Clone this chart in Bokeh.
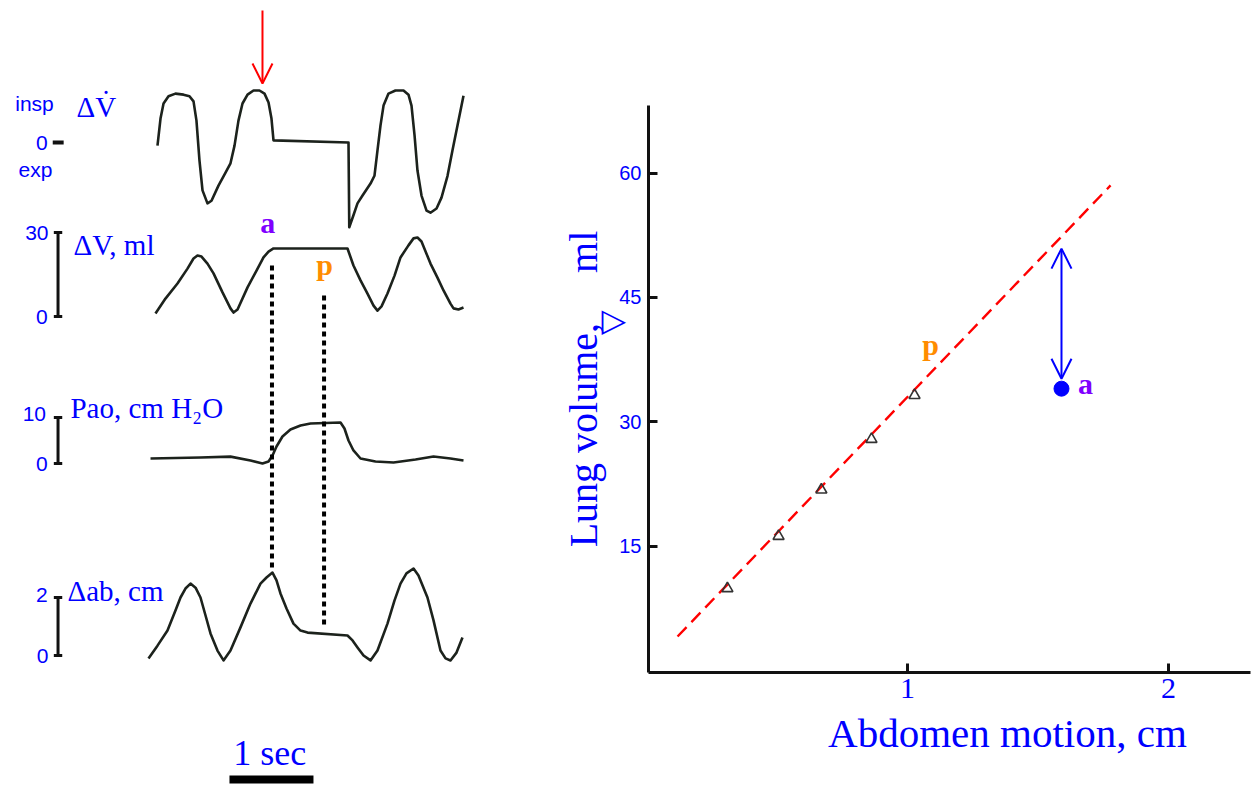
import numpy as np
from bokeh.plotting import figure
from bokeh.layouts import row
from bokeh.models import Range1d, Arrow, OpenHead, Label, FixedTicker
from bokeh.embed import file_html
from bokeh.resources import INLINE
from bokeh.core.properties import value

# ---------------- data: left panel, recorded traces (time in s) ----------------
flow_t = [0.107, 0.143, 0.179, 0.238, 0.321, 0.417, 0.488, 0.536, 0.571, 0.607, 0.643, 0.702,
          0.75, 0.833, 0.917, 0.976, 1.024, 1.071, 1.119, 1.179, 1.25, 1.321, 1.381, 1.429,
          1.464, 1.488, 2.381, 2.39, 2.44, 2.488, 2.548, 2.643, 2.69, 2.726, 2.762, 2.798,
          2.857, 2.94, 3.036, 3.095, 3.131, 3.167, 3.202, 3.25, 3.31, 3.357, 3.429, 3.488,
          3.56, 3.619, 3.679, 3.75]
flow_v = [-0.06, 0.46, 0.75, 0.89, 0.94, 0.92, 0.89, 0.79, 0.42, -0.35, -0.92, -1.17,
          -1.12, -0.83, -0.58, -0.40, -0.06, 0.42, 0.75, 0.92, 1.0, 1.0, 0.94, 0.77,
          0.46, 0.04, 0.0, -1.63, -1.40, -1.17, -1.02, -0.79, -0.64, -0.15, 0.33, 0.71,
          0.94, 1.0, 1.0, 0.92, 0.71, 0.14, -0.54, -1.02, -1.31, -1.35, -1.27, -1.06,
          -0.64, -0.15, 0.33, 0.90]

vol_t = [0.083, 0.202, 0.345, 0.464, 0.536, 0.583, 0.631, 0.702, 0.774, 0.881, 0.976, 1.012,
         1.06, 1.179, 1.286, 1.369, 1.429, 1.488, 2.369, 2.44, 2.524, 2.607, 2.679, 2.726,
         2.774, 2.845, 2.929, 3.0, 3.095, 3.155, 3.202, 3.25, 3.357, 3.44, 3.512, 3.595,
         3.631, 3.69, 3.75]
vol_ml = [1.1, 6.4, 11.8, 17.1, 20.7, 21.8, 21.4, 18.9, 15.4, 8.6, 2.9, 1.4,
          2.5, 10.4, 16.4, 21.1, 23.2, 24.3, 24.3, 18.2, 12.9, 8.2, 3.9, 2.1,
          3.6, 8.2, 14.6, 21.1, 25.4, 27.9, 28.2, 26.8, 18.9, 13.9, 9.3, 4.6,
          2.9, 2.5, 3.2]

pao_t = [0.024, 0.619, 0.976, 1.214, 1.357, 1.429, 1.476, 1.524, 1.595, 1.69, 1.81, 1.929,
         2.286, 2.333, 2.381, 2.44, 2.524, 2.702, 2.917, 3.179, 3.393, 3.595, 3.75]
pao_cmh2o = [1.1, 1.3, 1.5, 0.65, 0.0, 0.43, 1.74, 3.7, 5.87, 7.39, 8.26, 8.7,
             8.91, 7.61, 5.0, 2.83, 1.09, 0.43, 0.22, 0.87, 1.52, 1.09, 0.65]

ab_t = [0.0, 0.107, 0.226, 0.321, 0.381, 0.44, 0.5, 0.56, 0.619, 0.679, 0.738, 0.821,
        0.893, 0.976, 1.095, 1.214, 1.333, 1.405, 1.476, 1.524, 1.571, 1.643, 1.726, 1.81,
        1.893, 2.369, 2.429, 2.488, 2.56, 2.643, 2.726, 2.845, 2.929, 3.0, 3.071, 3.155,
        3.214, 3.321, 3.393, 3.476, 3.536, 3.595, 3.667, 3.738]
ab_cm = [-0.10, 0.34, 0.86, 1.55, 2.0, 2.31, 2.48, 2.34, 2.0, 1.38, 0.76, 0.17,
         -0.17, 0.17, 0.97, 1.79, 2.48, 2.69, 2.86, 2.59, 2.14, 1.62, 1.10, 0.86,
         0.79, 0.69, 0.52, 0.28, 0.0, -0.17, 0.17, 1.10, 1.90, 2.48, 2.83, 3.0,
         2.76, 2.0, 1.21, 0.17, -0.10, -0.17, 0.10, 0.62]

t_a = 1.47          # time of point "a"
t_p = 2.09          # time of point "p"
t_occlusion = 1.357 # red arrow
vol_bar = [0, 30]
pao_bar = [0, 10]
ab_bar = [0, 2]
time_bar_s = 1.0

# ---------------- data: right panel ----------------
abd_cm = [0.310, 0.506, 0.670, 0.862, 1.027]
lung_ml = [9.9, 16.2, 21.8, 27.9, 33.2]
a_abd, a_ml = 1.59, 34.0
a_arrow_top = 50.9
a_arrow_bottom = 35.2
fit_slope, fit_intercept = 32.8, 0.2
fit_x = [0.119, 1.778]
p_label_xy = (1.088, 39.3)
a_label_xy = (1.682, 34.6)
x_ticks = [1, 2]
y_ticks = [15, 30, 45, 60]

# ---------------- styles ----------------
BLUE = "#0000ff"
PURPLE = "#8000ff"
ORANGE = "#ff8c00"
RED = "#ff0000"
TRACE = "#1c221c"
SERIF = value("Liberation Serif")
SANS = value("Liberation Sans")

H = 787

# ================= left panel =================
LW = 528
T0_PX, PX_PER_S = 148, 84

left = figure(width=LW, height=H, output_backend="svg", toolbar_location=None,
              x_range=Range1d(-T0_PX / PX_PER_S, (LW - T0_PX) / PX_PER_S),
              y_range=Range1d(H, 0),
              x_axis_type=None, y_axis_type=None, min_border=0,
              outline_line_color=None, background_fill_color="white")


def trace_range(base_px, px_per_unit):
    return Range1d(-(H - base_px) / px_per_unit, base_px / px_per_unit)


left.extra_y_ranges = {
    "flow": trace_range(142, 52),
    "vol": trace_range(316, 2.8),
    "pao": trace_range(463, 4.6),
    "ab": trace_range(655, 29),
}

for rn, tt, vv in [("flow", flow_t, flow_v), ("vol", vol_t, vol_ml),
                   ("pao", pao_t, pao_cmh2o), ("ab", ab_t, ab_cm)]:
    left.line(tt, vv, y_range_name=rn, line_color=TRACE, line_width=2.6, line_join="round")

# scale bars
BAR_T = -1.077
CAP = 0.05
for rn, bar in [("vol", vol_bar), ("pao", pao_bar), ("ab", ab_bar)]:
    left.segment(x0=[BAR_T], y0=[bar[0]], x1=[BAR_T], y1=[bar[1]], y_range_name=rn,
                 line_color="#111111", line_width=3)
    left.segment(x0=[BAR_T - CAP, BAR_T - CAP], y0=bar, x1=[BAR_T + CAP, BAR_T + CAP], y1=bar,
                 y_range_name=rn, line_color="#111111", line_width=3)
left.segment(x0=[-1.14], y0=[0], x1=[-1.01], y1=[0], y_range_name="flow",
             line_color="#111111", line_width=4)


def sans_text(x, y, txt, rn, align="right"):
    left.text(x=x, y=y, text=txt, y_range_name=rn, text_font=SANS, text_font_size="21px",
              text_color=BLUE, text_align=align, text_baseline="middle")


sans_text([-1.357, -1.345], [0.75, -0.52], ["insp", "exp"], "flow", align="center")
sans_text([-1.20], [0.0], ["0"], "flow")
sans_text([-1.19, -1.20], vol_bar[::-1], ["30", "0"], "vol")
sans_text([-1.22, -1.20], [10.8, 0.0], ["10", "0"], "pao")
sans_text([-1.20, -1.19], [2.1, 0.0], ["2", "0"], "ab")


def serif_text(x, y, txt, rn):
    left.text(x=x, y=y, text=txt, y_range_name=rn, text_font=SERIF, text_font_size="29px",
              text_color=BLUE, text_align="left", text_baseline="middle")


serif_text([-0.857], [0.69], ["\u0394V\u0307"], "flow")
serif_text([-0.893], [25.4], ["\u0394V, ml"], "vol")
serif_text([-0.929], [12.0], ["Pao, cm H\u2082O"], "pao")
serif_text([-0.964], [2.24], ["\u0394ab, cm"], "ab")

# a / p markers
left.text(x=[t_a - 0.05], y=[33.6], text=["a"], y_range_name="vol", text_font=SERIF,
          text_font_size="30px", text_font_style="bold", text_color=PURPLE,
          text_align="center", text_baseline="middle")
left.text(x=[t_p + 0.005], y=[18.4], text=["p"], y_range_name="vol", text_font=SERIF,
          text_font_size="30px", text_font_style="bold", text_color=ORANGE,
          text_align="center", text_baseline="middle")

# dotted event lines (layout px from top)
left.segment(x0=[t_a, t_p], y0=[265, 295], x1=[t_a, t_p], y1=[570, 625],
             line_color="black", line_width=4, line_dash="5 4")

# red arrow
left.add_layout(Arrow(end=OpenHead(size=20, line_color=RED, line_width=2),
                      x_start=t_occlusion, y_start=2.54, x_end=t_occlusion, y_end=1.135,
                      y_range_name="flow", line_color=RED, line_width=2))

# time bar
TB0 = 0.964
left.segment(x0=[TB0], y0=[779], x1=[TB0 + time_bar_s], y1=[779], line_color="black",
             line_width=8, line_cap="butt")
left.text(x=[TB0 + time_bar_s / 2 - 0.02], y=[752], text=["1 sec"], text_font=SERIF,
          text_font_size="36px", text_color=BLUE, text_align="center",
          text_baseline="middle")

# ================= right panel =================
RW = 730
X0_PX, PX_PER_CM = 646 - LW, 261       # px (from panel left) of abdomen = 0
Y0_PX, PX_PER_ML = 670, 8.289          # px (from top) of volume = 0
right = figure(width=RW, height=H, output_backend="svg", toolbar_location=None,
               x_range=Range1d(-X0_PX / PX_PER_CM, (RW - X0_PX) / PX_PER_CM),
               y_range=Range1d(-(H - Y0_PX) / PX_PER_ML, Y0_PX / PX_PER_ML),
               min_border=0, outline_line_color=None, background_fill_color="white")
right.grid.visible = False

X_BOUNDS = (0.0077, 2.314)
Y_BOUNDS = (-0.24, 68.16)
right.xaxis.fixed_location = Y_BOUNDS[0]
right.yaxis.fixed_location = X_BOUNDS[0]
right.xaxis.bounds = X_BOUNDS
right.yaxis.bounds = Y_BOUNDS

for ax in (right.xaxis[0], right.yaxis[0]):
    ax.axis_line_width = 3
    ax.axis_line_color = "#111111"
    ax.major_tick_in = 9
    ax.major_tick_out = 0
    ax.major_tick_line_width = 3
    ax.major_tick_line_color = "#111111"
    ax.minor_tick_line_color = None
    ax.major_label_text_color = BLUE

right.xaxis.ticker = FixedTicker(ticks=x_ticks)
right.yaxis.ticker = FixedTicker(ticks=y_ticks)
right.xaxis.major_label_text_font = "Liberation Serif"
right.xaxis.major_label_text_font_size = "30px"
right.xaxis.major_label_standoff = 7
right.yaxis.major_label_text_font = "Liberation Sans"
right.yaxis.major_label_text_font_size = "20px"
right.yaxis.major_label_standoff = 7

right.yaxis.axis_label = "Lung volume,\u00a0\u00a0\u00a0\u00a0\u00a0ml"
right.yaxis.axis_label_text_font = "Liberation Serif"
right.yaxis.axis_label_text_font_size = "40px"
right.yaxis.axis_label_text_font_style = "normal"
right.yaxis.axis_label_text_color = BLUE
right.yaxis.axis_label_standoff = 10

# fit line
fit_y = [fit_slope * x + fit_intercept for x in fit_x]
right.line(fit_x, fit_y, line_color=RED, line_width=2.4, line_dash="13 7")

# measured points
right.scatter(abd_cm, lung_ml, marker="triangle", size=11, fill_color=None,
              line_color="#333333", line_width=1.6)

# point a and arrow
right.scatter([a_abd], [a_ml], marker="circle", size=15, fill_color=BLUE, line_color=BLUE)
right.add_layout(Arrow(start=OpenHead(size=20, line_color=BLUE, line_width=2),
                       end=OpenHead(size=20, line_color=BLUE, line_width=2),
                       x_start=a_abd, y_start=a_arrow_top, x_end=a_abd, y_end=a_arrow_bottom,
                       line_color=BLUE, line_width=2))

right.text(x=[p_label_xy[0]], y=[p_label_xy[1]], text=["p"], text_font=SERIF,
           text_font_size="30px", text_font_style="bold", text_color=ORANGE,
           text_align="center", text_baseline="middle")
right.text(x=[a_label_xy[0]], y=[a_label_xy[1]], text=["a"], text_font=SERIF,
           text_font_size="30px", text_font_style="bold", text_color=PURPLE,
           text_align="center", text_baseline="middle")

right.add_layout(Label(x=1.383, y=-7.48, text="Abdomen motion, cm", text_font="Liberation Serif",
                       text_font_size="41px", text_color=BLUE, text_align="center",
                       text_baseline="middle"))
right.add_layout(Label(x=-0.125, y=42.3, text="\u25b7", text_font="DejaVu Sans",
                       text_font_size="32px", text_font_style="bold", text_color=BLUE,
                       text_align="center", text_baseline="middle"))

layout = row(left, right)
open("out.html", "w").write(file_html(layout, INLINE))
